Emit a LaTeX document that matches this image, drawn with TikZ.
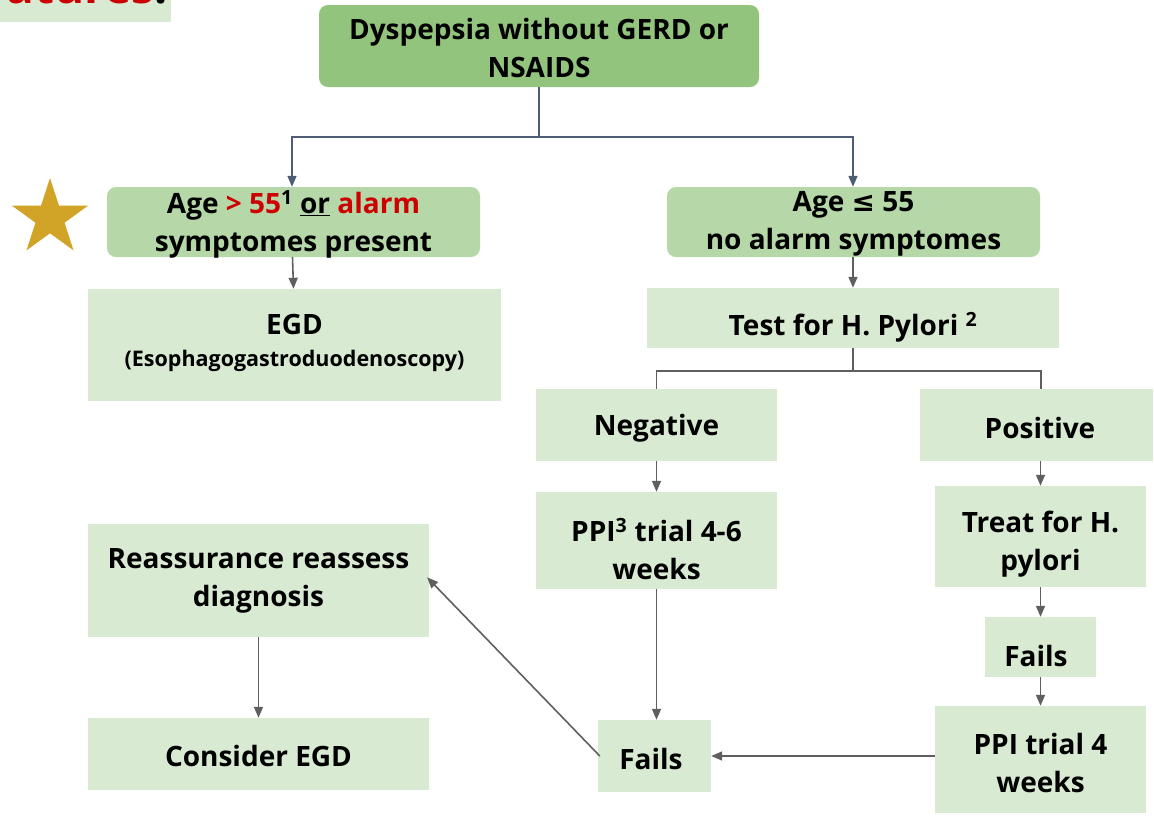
\documentclass[tikz,border=0pt]{standalone}
\usepackage{fontspec}
\setmainfont{Open Sans}
\newfontfamily\symf{DejaVu Sans}
\usetikzlibrary{arrows.meta,shapes.geometric}
\definecolor{gdark}{HTML}{93C47D}
\definecolor{gmid}{HTML}{B6D7A8}
\definecolor{glight}{HTML}{D9EAD3}
\definecolor{redt}{HTML}{CC0000}
\definecolor{slate}{HTML}{4E5D73}
\definecolor{greyl}{HTML}{5F5F5F}
\definecolor{starc}{HTML}{D1A326}
\tikzset{
  box/.style={fill=glight, draw=none, inner sep=0pt},
  rbox/.style={draw=none, inner sep=0pt, rounded corners=9pt},
  txt/.style={align=center, inner sep=0pt, font=\fontsize{28}{38}\selectfont\bfseries},
  conna/.style={draw=slate, line width=1.6pt, -{Triangle[length=11pt,width=9pt]}},
  connal/.style={draw=slate, line width=1.6pt},
  conn/.style={draw=greyl, line width=1.6pt, -{Triangle[length=11pt,width=9pt]}},
  connl/.style={draw=greyl, line width=1.6pt},
}
\begin{document}
\begin{tikzpicture}[x=1pt,y=-1pt]
\useasboundingbox (0,0) rectangle (1154,815);
% top-left fragment
\begin{scope}
\clip (0,0) rectangle (171,22);
\fill[glight] (0,0) rectangle (171,22);
\node[anchor=base east, inner sep=0pt, font=\fontsize{46}{46}\selectfont\bfseries] (frag) at (168,3) {\textcolor{redt}{atures}:};
\end{scope}
% star
\node[star, star points=5, star point ratio=2.618, fill=starc, draw=none, minimum size=80pt, inner sep=0pt] (st) at (50,218) {};
% boxes
\node[rbox, fill=gdark, minimum width=440pt, minimum height=82pt] (top) at (539,46) {};
\node[txt] (toptxt) at (539,48) {Dyspepsia without GERD or\\NSAIDS};
\node[rbox, fill=gmid, minimum width=373pt, minimum height=70pt] (age1) at (293.5,222) {};
\node[txt] (age1t) at (293.5,224) {Age \textcolor{redt}{> 55}\textsuperscript{1} \underline{or} \textcolor{redt}{alarm}\\symptomes present};
\node[rbox, fill=gmid, minimum width=373pt, minimum height=70pt] (age2) at (853.5,222) {};
\node[txt] (age2t) at (853.5,224) {Age {\symf\bfseries ≤} 55\\no alarm symptomes};
\node[box, minimum width=413pt, minimum height=112pt] (egd) at (294.5,345) {};
\node[txt] (egdt) at (294.5,343) {EGD\\[-6pt]{\fontsize{21.5}{26}\selectfont (Esophagogastroduodenoscopy)}};
\node[box, minimum width=412pt, minimum height=60pt] (test) at (853,318) {};
\node[txt] (testt) at (853,327) {Test for H. Pylori \textsuperscript{2}};
\node[box, minimum width=241pt, minimum height=72pt] (neg) at (656.5,425) {};
\node[txt] (negt) at (656.5,428) {Negative};
\node[box, minimum width=233pt, minimum height=72pt] (pos) at (1036.5,425) {};
\node[txt] (post) at (1040,428) {Positive};
\node[box, minimum width=241pt, minimum height=97pt] (ppi3) at (656.5,540.5) {};
\node[txt] (ppi3t) at (656.5,549) {PPI\textsuperscript{3} trial 4-6\\weeks};
\node[box, minimum width=211pt, minimum height=101pt] (treat) at (1040.5,536.5) {};
\node[txt] (treatt) at (1040.5,544) {Treat for H.\\pylori};
\node[box, minimum width=111pt, minimum height=60pt] (failsR) at (1040.5,647) {};
\node[txt] (failsRt) at (1036,656) {Fails};
\node[box, minimum width=211pt, minimum height=107pt] (ppi4) at (1040.5,759.5) {};
\node[txt] (ppi4t) at (1040.5,763) {PPI trial 4\\weeks};
\node[box, minimum width=113pt, minimum height=72pt] (failsM) at (654.5,756) {};
\node[txt] (failsMt) at (651,759) {Fails};
\node[box, minimum width=341pt, minimum height=113pt] (reass) at (258.5,580.5) {};
\node[txt] (reasst) at (258.5,581) {Reassurance reassess\\diagnosis};
\node[box, minimum width=341pt, minimum height=72pt] (cons) at (258.5,754) {};
\node[txt] (const) at (258.5,756) {Consider EGD};
% connectors
\coordinate (j1) at (539,137);
\draw[connal] (top.south) -- (j1);
\draw[conna] (j1) -| ([xshift=-1.5pt]age1.north);
\draw[conna] (j1) -| ([xshift=-0.5pt]age2.north);
\draw[conn] ([xshift=-1pt]age1.south) -- ([xshift=-1pt]egd.north);
\draw[conn] ([xshift=-0.5pt]age2.south) -- ([xshift=-0.5pt]age2.south |- test.north);
\coordinate (j2) at (853,371);
\draw[connl] (test.south) -- (j2);
\draw[connl] (j2) -| (neg.north);
\draw[connl] (j2) -| ([xshift=4.5pt]pos.north);
\draw[conn] (neg.south) -- (ppi3.north);
\draw[conn] (treat.north |- pos.south) -- (treat.north);
\draw[conn] (treat.south) -- (failsR.north);
\draw[conn] (failsR.south) -- (ppi4.north);
\draw[conn] (ppi3.south) -- (ppi3.south |- failsM.north);
\draw[conn] (ppi4.west |- failsM.east) -- (failsM.east);
\draw[conn, shorten >=-3pt] ([xshift=2pt]failsM.west) -- ([yshift=1pt]reass.east);
\draw[conn] (reass.south) -- (cons.north);
\end{tikzpicture}
\end{document}
